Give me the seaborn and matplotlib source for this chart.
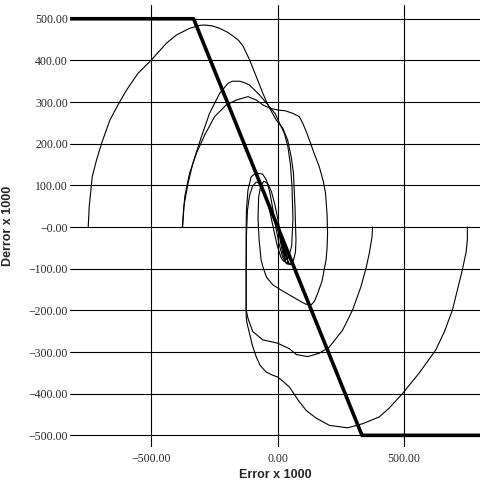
import numpy as np
import pandas as pd
import matplotlib
matplotlib.use("Agg")
import matplotlib.pyplot as plt
import seaborn as sns

# switching line
sw_x = [-830, -333, 333, 800]
sw_y = [500, 500, -500, -500]

# trajectories (Error x 1000, Derror x 1000)
t1_x = [-750, -746, -734, -717, -697, -664, -625, -598, -553, -500, -441, -401, -349, -310, -289, -260, -230, -200, -178, -155, -138, -112, -85, -59, -39, -20, -6, 20, 39, 53, 62, 68, 72, 70, 62, 50, 35, 22, 12, 5, 0]
t1_y = [0, 49, 121, 161, 201, 257, 301, 329, 369, 401, 441, 461, 477, 484, 485, 483, 477, 468, 459, 448, 435, 402, 361, 321, 293, 272, 257, 237, 209, 169, 130, 49, -31, -60, -80, -90, -88, -70, -40, -15, 0]

t3_x = [-377, -372, -355, -336, -302, -270, -230, -197, -180, -150, -130, -112, -72, -33, -10, 7, 26, 40, 50, 56, 60, 55, 42, 30, 22, 15, 8, 0]
t3_y = [0, 49, 105, 153, 217, 273, 321, 345, 350, 350, 346, 341, 317, 289, 272, 249, 225, 193, 150, 100, 20, -45, -75, -78, -60, -35, -12, 0]

t2_x = [-377, -368, -349, -322, -289, -250, -204, -164, -118, -85, -59, -30, 0, 30, 59, 85, 99, 112, 125, 145, 164, 180, 189, 195, 197, 195, 191, 175, 158, 145, 132, 110, 80, 46, 15, -19, -45, -59, -66, -74, -78, -76, -68, -55, -40, -25, -12, 0, 12, 25, 38, 45, 40, 28, 15, 5, 0]
t2_y = [0, 73, 129, 177, 221, 265, 293, 305, 313, 305, 293, 285, 281, 279, 273, 265, 249, 230, 209, 175, 145, 110, 81, 30, -15, -50, -79, -130, -159, -178, -187, -185, -175, -163, -152, -139, -120, -95, -79, -30, 20, 70, 98, 110, 105, 85, 55, 20, -20, -55, -80, -88, -82, -60, -35, -12, 0]

t4_x = [750, 750, 745, 730, 711, 691, 660, 625, 560, 493, 440, 401, 336, 276, 204, 150, 112, 80, 46, 20, 0, -23, -46, -70, -85, -100, -112, -122, -125, -125, -125, -124, -118, -105, -90, -79, -60, -45, -32, -20, -8, 5, 18, 30, 40, 38, 28, 15, 5, 0]
t4_y = [0, -31, -60, -103, -150, -199, -250, -295, -350, -400, -435, -456, -472, -482, -476, -458, -440, -415, -384, -370, -360, -355, -348, -332, -312, -285, -255, -230, -215, -100, 0, 40, 89, 121, 128, 129, 127, 113, 85, 45, 0, -40, -70, -85, -88, -72, -50, -25, -8, 0]

t5_x = [375, 373, 362, 349, 329, 296, 257, 204, 164, 118, 73, 46, 0, -20, -59, -99, -118, -125, -125, -124, -120, -112, -100, -85, -70, -55, -42, -28, -15, -2, 12, 22, 30, 26, 16, 6, 0]
t5_y = [0, -23, -63, -99, -143, -199, -247, -288, -303, -311, -306, -292, -279, -276, -271, -251, -219, -199, -100, -20, 40, 75, 98, 108, 104, 88, 62, 28, -10, -45, -72, -82, -80, -62, -38, -14, 0]

traj_x = [t1_x, t3_x, t2_x, t4_x, t5_x]
traj_y = [t1_y, t3_y, t2_y, t4_y, t5_y]

x_ticks = [-500, 0, 500]
x_tick_labels = ["\u2212500.00", "0.00", "500.00"]
y_ticks = [500, 400, 300, 200, 100, 0, -100, -200, -300, -400, -500]
y_tick_labels = ["500.00", "400.00", "300.00", "200.00", "100.00", "\u22120.00",
                 "\u2212100.00", "\u2212200.00", "\u2212300.00", "\u2212400.00", "\u2212500.00"]

sns.set_theme(style="white")
plt.rcParams['font.family'] = ['DejaVu Sans']

fig = plt.figure(figsize=(4.8, 4.87), dpi=100)
ax = fig.add_axes([70/480, 1-447/487, 1-70/480, (447-5)/487])

for tx, ty in zip(traj_x, traj_y):
    sns.lineplot(x=tx, y=ty, sort=False, estimator=None, color="black", lw=0.8, ax=ax)
sns.lineplot(x=sw_x, y=sw_y, sort=False, estimator=None, color="black", lw=2.6, ax=ax, zorder=5)

ax.set_xlim(-822, 800)
ax.set_ylim(-528, 533)
for s in ax.spines.values():
    s.set_visible(False)

for yv in y_ticks:
    ax.axhline(yv, color="black", lw=0.8, zorder=0)
for xv in x_ticks:
    ax.axvline(xv, color="black", lw=0.8, zorder=0)

ax.set_xticks(x_ticks)
ax.set_xticklabels(x_tick_labels, family="Liberation Serif", fontsize=8.5)
ax.set_yticks(y_ticks)
ax.set_yticklabels(y_tick_labels, family="Liberation Serif", fontsize=8.5)
ax.tick_params(axis="both", length=0, pad=1.5)
ax.tick_params(axis="x", pad=4)

ax.set_xlabel("Error x 1000", family="Liberation Sans", fontweight="bold", fontsize=9, labelpad=3)
ax.set_ylabel("Derror x 1000", family="Liberation Sans", fontweight="bold", fontsize=9)
ax.yaxis.set_label_coords(-0.137, 0.5)

fig.savefig("out.png", dpi=100)
